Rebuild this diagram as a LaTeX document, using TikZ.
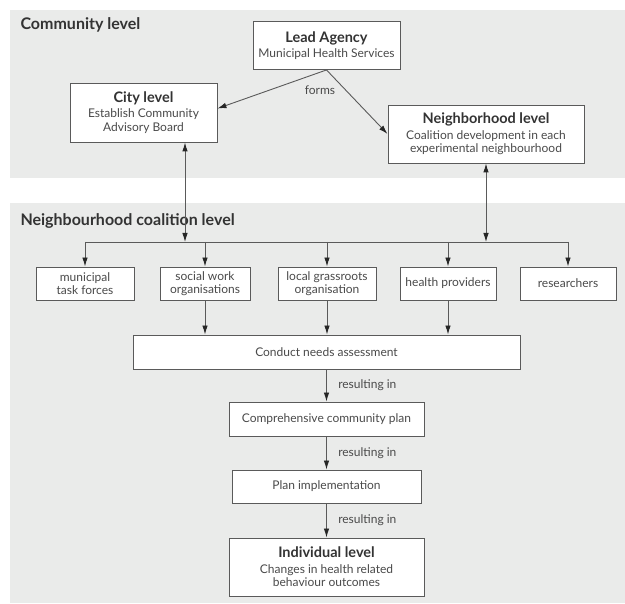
\documentclass[tikz,border=0pt]{standalone}
\usepackage{fontspec}
\setmainfont{Lato}
\usetikzlibrary{arrows.meta, positioning}
\definecolor{panelgray}{HTML}{EAEBEA}
\definecolor{linegray}{HTML}{5A5A5A}
\definecolor{textgray}{HTML}{4A4A4A}
\newcommand{\boxhead}[1]{{\fontsize{14.5}{16}\selectfont\bfseries\color{black!80}#1}}
\begin{document}
\begin{tikzpicture}[
    x=1pt, y=-1pt,
    box/.style={draw=linegray, line width=0.9pt, fill=white, align=center, inner sep=2pt, text=textgray, font=\fontsize{12}{13.5}\selectfont},
    heading/.style={anchor=west, text=black!80, font=\fontsize{16}{18}\selectfont\bfseries},
    lbl/.style={text=textgray, font=\fontsize{12}{13.5}\selectfont},
    arrow/.style={-{Latex[length=9pt,width=5.5pt,color=black!85]}, line width=0.9pt, draw=linegray},
    dblarrow/.style={{Latex[length=9pt,width=5.5pt,color=black!85]}-{Latex[length=9pt,width=5.5pt,color=black!85]}, line width=0.9pt, draw=linegray},
    plain/.style={line width=0.9pt, draw=linegray}
]
\useasboundingbox (0,0) rectangle (625,604);
% panels
\fill[panelgray] (10,10) rectangle (625,178);
\fill[panelgray] (10,203) rectangle (625,603);
\node[heading] (commtitle) at (17,25) {Community level};
\node[heading] (coaltitle) at (17,221) {Neighbourhood coalition level};

% community level
\node[box, minimum width=147pt, minimum height=48pt] (lead) at (326.5,45.5) {\boxhead{Lead Agency}\\[1pt]Municipal Health Services};
\node[box, minimum width=147pt, minimum height=59pt] (city) at (143.5,112.5) {\boxhead{City level}\\[2pt]Establish Community\\Advisory Board};
\node[box, minimum width=196pt, minimum height=58pt] (nbh) at (486,134) {\boxhead{Neighborhood level}\\[2pt]Coalition development in each\\experimental neighbourhood};
\node[lbl] (forms) at (320,90) {forms};

\draw[arrow] (lead.south) -- ([yshift=4pt]city.east);
\draw[arrow] (lead.south) -- (nbh.west);

% coalition members
\coordinate (hl) at (0,242);
\coordinate (cityjoin) at (185,242);
\node[box, minimum width=98pt, minimum height=33pt] (muni) at (85,283.5) {municipal\\task forces};
\node[box, minimum width=90pt, minimum height=33pt] (social) at (205,283.5) {social work\\organisations};
\node[box, minimum width=98pt, minimum height=33pt] (grass) at (327,283.5) {local grassroots\\organisation};
\node[box, minimum width=96pt, minimum height=33pt] (health) at (448,283.5) {health providers};
\node[box, minimum width=96pt, minimum height=33pt] (res) at (568,283.5) {researchers};

\draw[dblarrow] (city.south -| cityjoin) -- (cityjoin);
\draw[dblarrow] (nbh.south) -- (nbh.south |- hl);
\draw[plain] (muni |- hl) -- (res |- hl);
\foreach \m in {muni, social, grass, health, res}
  \draw[arrow] (\m |- hl) -- (\m.north);

% process chain
\node[box, minimum width=387pt, minimum height=34pt] (needs) at (326.5,352) {Conduct needs assessment};
\node[box, minimum width=195pt, minimum height=34pt] (plan) at (326.5,419) {Comprehensive community plan};
\node[box, minimum width=189pt, minimum height=33pt] (impl) at (326.5,486.5) {Plan implementation};
\node[box, minimum width=195pt, minimum height=58pt] (indiv) at (326.5,567) {\boxhead{Individual level}\\[2pt]Changes in health related\\behaviour outcomes};

\foreach \m in {social, grass, health}
  \draw[arrow] (\m) -- (needs.north -| \m);

\draw[arrow] (needs) -- (plan) node[lbl, midway, right=8pt] (res1) {resulting in};
\draw[arrow] (plan) -- (impl) node[lbl, midway, right=8pt] (res2) {resulting in};
\draw[arrow] (impl) -- (indiv) node[lbl, midway, right=8pt] (res3) {resulting in};
\end{tikzpicture}
\end{document}
